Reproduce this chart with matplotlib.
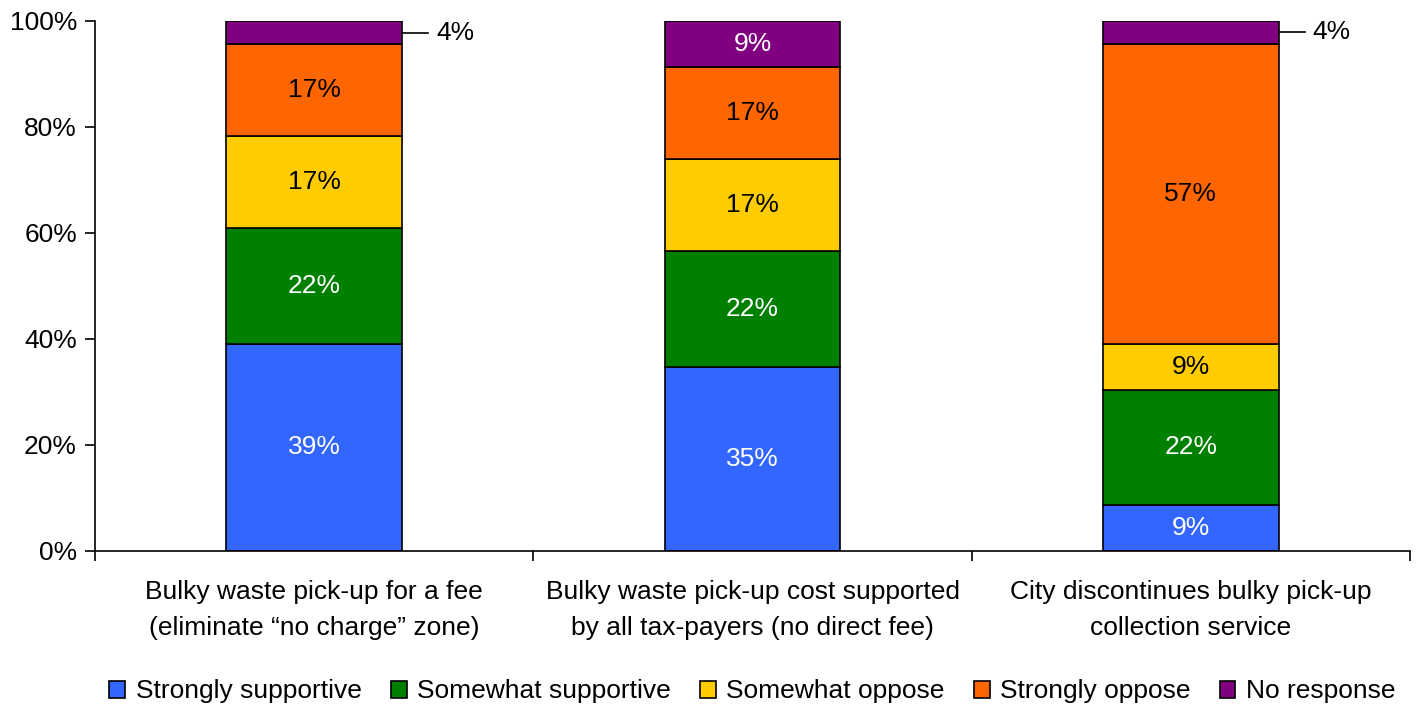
import numpy as np
import matplotlib.pyplot as plt

plt.rcParams['font.family'] = ['Liberation Sans', 'DejaVu Sans']

categories = ['Bulky waste pick-up for a fee\n(eliminate \u201cno charge\u201d zone)',
              'Bulky waste pick-up cost supported\nby all tax-payers (no direct fee)',
              'City discontinues bulky pick-up\ncollection service']
series = ['Strongly supportive', 'Somewhat supportive', 'Somewhat oppose',
          'Strongly oppose', 'No response']
strongly_supportive = [39.13, 34.78, 8.70]
somewhat_supportive = [21.74, 21.74, 21.74]
somewhat_oppose = [17.39, 17.39, 8.70]
strongly_oppose = [17.39, 17.39, 56.52]
no_response = [4.35, 8.70, 4.35]
values = [strongly_supportive, somewhat_supportive, somewhat_oppose,
          strongly_oppose, no_response]

colors = ['#3366FF', '#008000', '#FFCC00', '#FF6600', '#800080']
text_colors = ['white', 'white', 'black', 'black', 'white']
fs = 19

fig = plt.figure(figsize=(14.24, 7.09), dpi=100)
ax = fig.add_axes([95 / 1424, 1 - 551 / 709, (1410 - 95) / 1424, 530 / 709])

x = np.arange(len(categories))
bottom = np.zeros(len(categories))
for vals, name, c, tc in zip(values, series, colors, text_colors):
    vals = np.array(vals)
    ax.bar(x, vals, 0.4, bottom=bottom, color=c, edgecolor='black',
           linewidth=1.2, label=name)
    for i, v in enumerate(vals):
        lbl = f'{v:.0f}%'
        if v < 6:
            # small segment: label outside with a leader line
            ymid = bottom[i] + v / 2
            ax.plot([x[i] + 0.2, x[i] + 0.26], [ymid, ymid], color='black',
                    lw=1.2, clip_on=False)
            ax.text(x[i] + 0.278, ymid, lbl, ha='left', va='center',
                    fontsize=fs, color='black')
        else:
            ax.text(x[i], bottom[i] + v / 2, lbl, ha='center', va='center',
                    fontsize=fs, color=tc)
    bottom += vals

ax.set_xlim(-0.5, 2.5)
ax.set_ylim(0, 100)
ax.set_yticks(np.arange(0, 101, 20))
ax.set_yticklabels([f'{t}%' for t in range(0, 101, 20)], fontsize=fs)
ax.set_xticks([-0.5, 0.5, 1.5, 2.5])
ax.set_xticklabels([])
ax.set_xticks(x, minor=True)
ax.set_xticklabels(categories, minor=True, fontsize=fs, linespacing=1.6)
ax.tick_params(axis='x', which='minor', length=0, pad=21)
ax.tick_params(axis='x', which='major', length=7, direction='out', width=1.2)
ax.tick_params(axis='y', length=7, direction='out', width=1.2, pad=6)
for s in ['top', 'right']:
    ax.spines[s].set_visible(False)
for s in ['left', 'bottom']:
    ax.spines[s].set_linewidth(1.2)

ax.legend(loc='center', bbox_to_anchor=(0.5, -0.265), ncol=5, frameon=False,
          fontsize=fs, handlelength=0.6, handleheight=0.6, handletextpad=0.4,
          columnspacing=1.1)

fig.savefig('out.png', dpi=100)
